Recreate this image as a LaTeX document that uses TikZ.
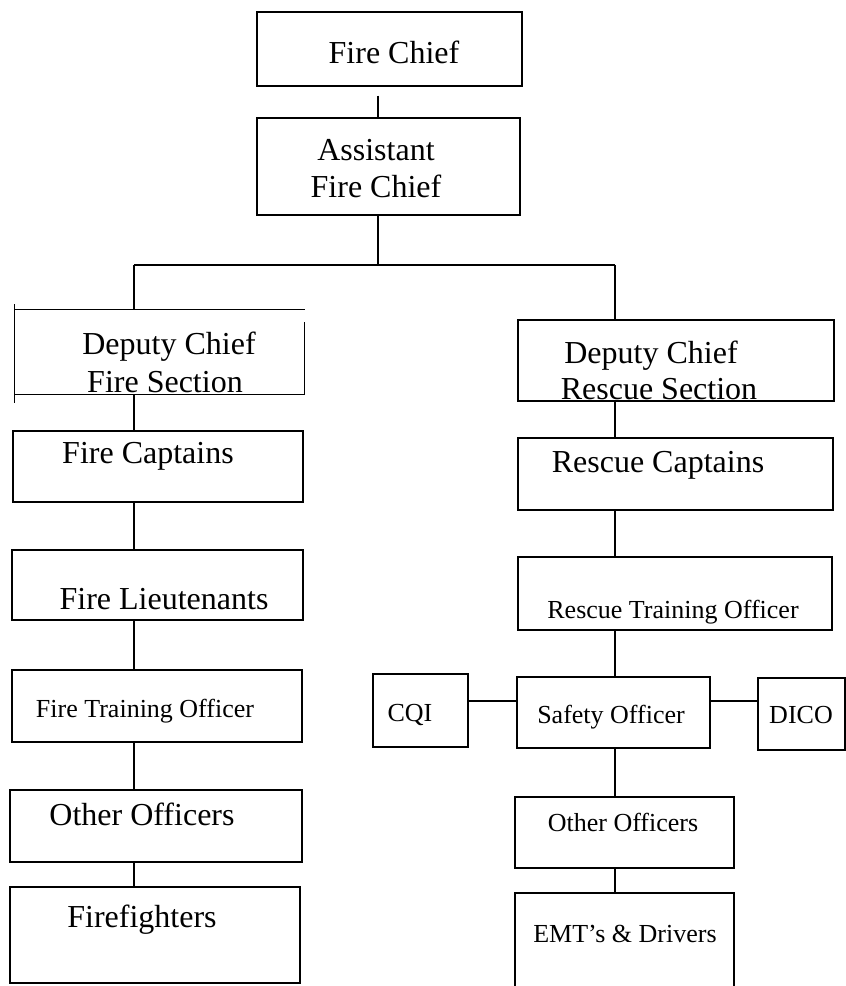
\documentclass[tikz,border=0pt]{standalone}
\usepackage{fontspec}
\setmainfont{Liberation Serif}
\usepackage{tikz}

\begin{document}
\begin{tikzpicture}[x=1pt,y=-1pt,
box/.style 2 args={draw, line width=1.3pt, inner sep=0pt, minimum width=#1, minimum height=#2},
wire/.style={line width=1.3pt},
big/.style={anchor=base, inner sep=0pt, font=\fontsize{32}{34}\selectfont},
small/.style={anchor=base, inner sep=0pt, font=\fontsize{26}{28}\selectfont}]
\useasboundingbox (0,0) rectangle (846,986);
% spines of the chart
\coordinate (spineA) at (378,0);
\coordinate (spineL) at (134,0);
\coordinate (spineR) at (615,0);
\coordinate (bar) at (0,265);
\coordinate (side) at (0,701);
% top
\node[box={265}{74}] (chief) at (389.5,49) {};
\node[big] (chiefT) at (394,63) {Fire Chief};
\node[box={263}{97}] (asst) at (388.5,166.5) {};
\node[big] (asstT) at (376,160) {Assistant};
\node[big] (asstT2) at (376,197) {Fire Chief};
% fire section
\node[box={289}{84}, draw=none] (dfire) at (159.5,352) {};
\draw[wire] ([yshift=5pt]dfire.north west) -- ([yshift=-8pt]dfire.south west);
\draw[wire] (dfire.north west) -- (dfire.north east);
\draw[wire] ([yshift=-13pt]dfire.north east) -- (dfire.south east);
\draw[wire] (dfire.south west) -- (dfire.south east);
\node[big] (dfireT) at (169,354) {Deputy Chief};
\node[big] (dfireT2) at (165,392) {Fire Section};
\node[box={290}{71}] (fcapt) at (158,466.5) {};
\node[big] (fcaptT) at (148,463) {Fire Captains};
\node[box={291}{70}] (flieut) at (157.5,585) {};
\node[big] (flieutT) at (164,609) {Fire Lieutenants};
\node[box={290}{72}] (ftrain) at (157,706) {};
\node[small] (ftrainT) at (145,717) {Fire Training Officer};
\node[box={292}{72}] (fother) at (156,826) {};
\node[big] (fotherT) at (142,825) {Other Officers};
\node[box={290}{96}] (ffight) at (155,935) {};
\node[big] (ffightT) at (142,927) {Firefighters};
% rescue section
\node[box={316}{81}] (drescue) at (676,360.5) {};
\node[big] (drescueT) at (651,363) {Deputy Chief};
\node[big] (drescueT2) at (659,399) {Rescue Section};
\node[box={315}{72}] (rcapt) at (675.5,474) {};
\node[big] (rcaptT) at (658,472) {Rescue Captains};
\node[box={314}{73}] (rtrain) at (675,593.5) {};
\node[small] (rtrainT) at (673,618) {Rescue Training Officer};
\node[box={193}{71}] (safety) at (613.5,712.5) {};
\node[small] (safetyT) at (611,723) {Safety Officer};
\node[box={95}{73}] (cqi) at (420.5,710.5) {};
\node[small] (cqiT) at (410,721) {CQI};
\node[box={87}{72}] (dico) at (801.5,714) {};
\node[small] (dicoT) at (801,723) {DICO};
\node[box={219}{71}] (rother) at (624.5,832.5) {};
\node[small] (rotherT) at (623,831) {Other Officers};
\node[box={219}{97}] (emt) at (624.5,941.5) {};
\node[small] (emtT) at (625,942) {EMT's \& Drivers};
% connectors
\draw[wire, shorten <=9pt] (chief.south -| spineA) -- (asst.north -| spineA);
\draw[wire] (asst.south -| spineA) -- (spineA |- bar);
\draw[wire] (spineL |- bar) -- (spineR |- bar);
\draw[wire] (spineL |- bar) -- (dfire.north -| spineL);
\draw[wire] (spineR |- bar) -- (drescue.north -| spineR);
\draw[wire] (dfire.south -| spineL) -- (fcapt.north -| spineL);
\draw[wire] (fcapt.south -| spineL) -- (flieut.north -| spineL);
\draw[wire] (flieut.south -| spineL) -- (ftrain.north -| spineL);
\draw[wire] (ftrain.south -| spineL) -- (fother.north -| spineL);
\draw[wire] (fother.south -| spineL) -- (ffight.north -| spineL);
\draw[wire] (drescue.south -| spineR) -- (rcapt.north -| spineR);
\draw[wire] (rcapt.south -| spineR) -- (rtrain.north -| spineR);
\draw[wire] (rtrain.south -| spineR) -- (safety.north -| spineR);
\draw[wire] (safety.south -| spineR) -- (rother.north -| spineR);
\draw[wire] (rother.south -| spineR) -- (emt.north -| spineR);
\draw[wire] (cqi.east |- side) -- (safety.west |- side);
\draw[wire] (safety.east |- side) -- (dico.west |- side);
\end{tikzpicture}
\end{document}
